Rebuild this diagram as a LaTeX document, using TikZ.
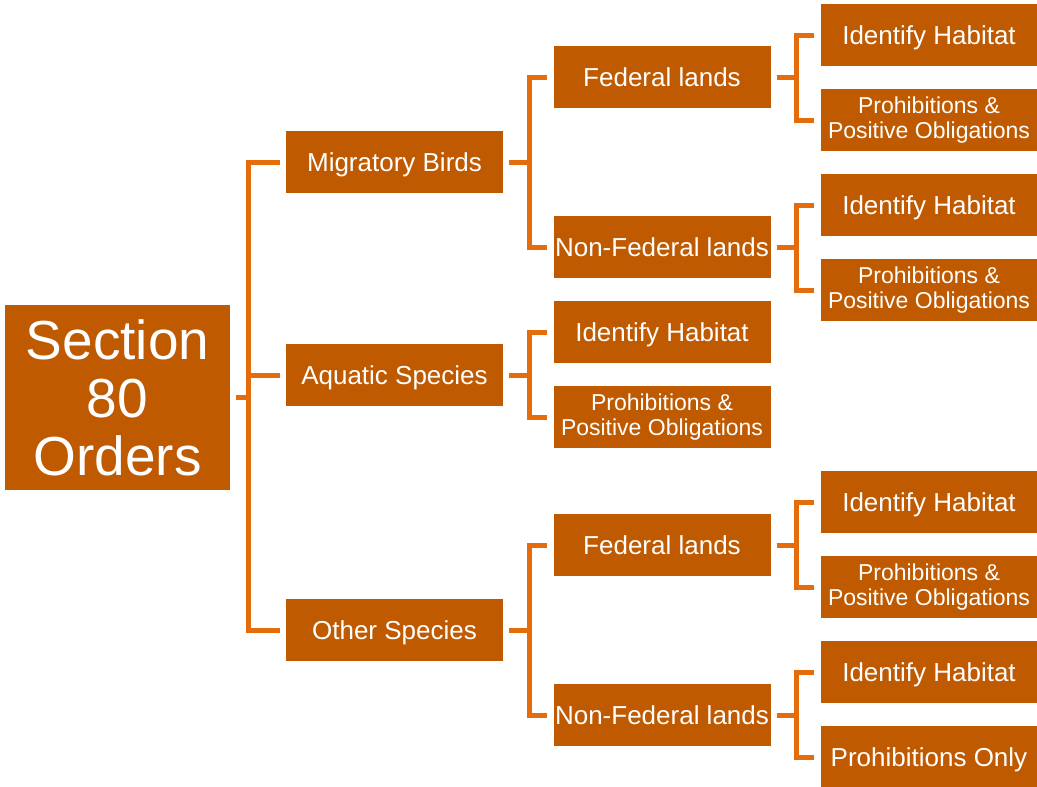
\documentclass[tikz,border=0pt]{standalone}
\usepackage{fontspec}
\setmainfont{Liberation Sans}

\definecolor{boxorange}{HTML}{C05A00}
\definecolor{lineorange}{HTML}{E46C0A}

\tikzset{
  basebox/.style={fill=boxorange, text=white, inner sep=0pt, align=center,
    minimum width=217pt, minimum height=62pt},
  box/.style={basebox, text height=18.6pt, text depth=0pt,
    font=\fontsize{26}{28}\selectfont},
  smallbox/.style={basebox, font=\fontsize{23}{24.5}\selectfont},
  link/.style={draw=lineorange, line width=5pt}
}

\begin{document}
\begin{tikzpicture}[x=1pt,y=-1pt]
  \useasboundingbox (0,0) rectangle (1037,787);

  % root and first level
  \node[basebox, minimum width=225pt, minimum height=185pt,
        font=\fontsize{55}{58}\selectfont] (root) at (117.5,397.5) {Section\\80\\Orders};
  \node[box] (mb) at (394.5,162) {Migratory Birds};
  \node[box] (as) at (394.5,375) {Aquatic Species};
  \node[box] (os) at (394.5,630) {Other Species};

  % second level
  \node[box] (mbf) at (662,77)  {Federal lands};
  \node[box] (mbn) at (662,247) {Non-Federal lands};
  \node[box] (asi) at (662,332) {Identify Habitat};
  \node[smallbox] (asp) at (662,417) {Prohibitions \&\\Positive Obligations};
  \node[box] (osf) at (662,545) {Federal lands};
  \node[box] (osn) at (662,715) {Non-Federal lands};

  % third level
  \node[box] (mbfi) at (929,35)  {Identify Habitat};
  \node[smallbox] (mbfp) at (929,120) {Prohibitions \&\\Positive Obligations};
  \node[box] (mbni) at (929,205) {Identify Habitat};
  \node[smallbox] (mbnp) at (929,290) {Prohibitions \&\\Positive Obligations};
  \node[box] (osfi) at (929,502) {Identify Habitat};
  \node[smallbox] (osfp) at (929,587) {Prohibitions \&\\Positive Obligations};
  \node[box] (osni) at (929,672) {Identify Habitat};
  \node[box] (osnp) at (929,757) {Prohibitions Only};

  % buses
  \coordinate (bus0) at (248,0);
  \coordinate (bus1) at (529,0);
  \coordinate (bus2) at (796,0);

  \foreach \p/\c/\b in {root/mb/bus0, root/as/bus0, root/os/bus0,
      mb/mbf/bus1, mb/mbn/bus1, as/asi/bus1, as/asp/bus1, os/osf/bus1, os/osn/bus1,
      mbf/mbfi/bus2, mbf/mbfp/bus2, mbn/mbni/bus2, mbn/mbnp/bus2,
      osf/osfi/bus2, osf/osfp/bus2, osn/osni/bus2, osn/osnp/bus2}
    \draw[link] ([xshift=6pt]\p.east) -- (\p.east -| \b) |- ([xshift=-6pt]\c.west);
\end{tikzpicture}
\end{document}
